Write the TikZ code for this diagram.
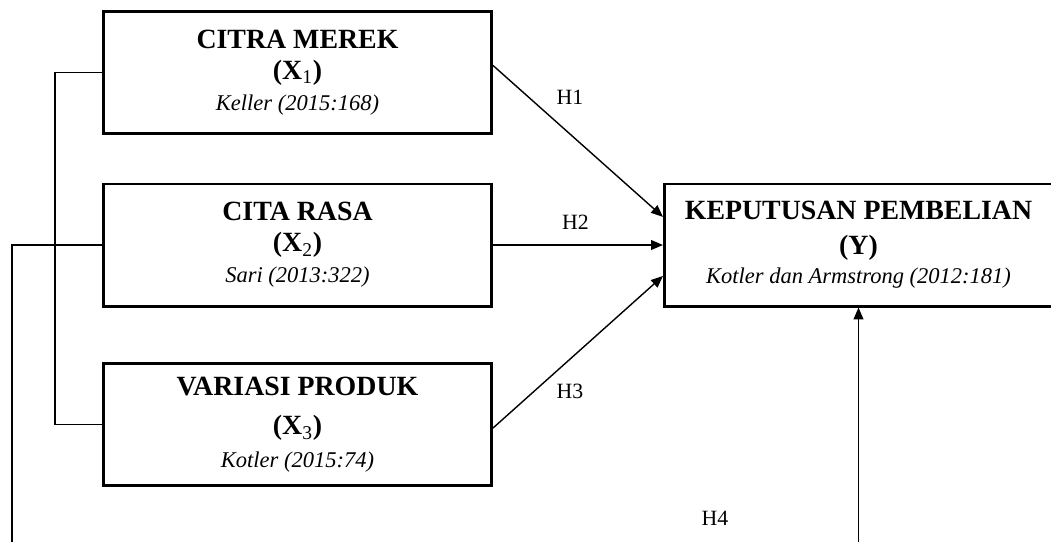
\documentclass[tikz,border=0pt]{standalone}
\usepackage{fontspec}
\setmainfont{Liberation Serif}
\usetikzlibrary{arrows.meta, positioning, calc}
\newcommand{\srcref}[1]{{\fontsize{16}{22}\selectfont\mdseries\itshape #1}}

\begin{document}
\begin{tikzpicture}[
    x=0.025cm, y=-0.025cm,
    varbox/.style={draw, line width=2.1pt,
                   minimum width=9.7cm, minimum height=3.05cm,
                   align=center, inner sep=0pt,
                   font=\fontsize{19.8}{22}\selectfont\bfseries},
    link/.style={line width=1pt},
    arr/.style={link, -{Triangle[length=8.5pt, width=7pt]}},
    hyp/.style={font=\fontsize{15.5}{18}\selectfont}
  ]
  \useasboundingbox (0,0) rectangle (1051,541);

  % variables
  \node[varbox] (x1) at (297.5,72.5)
    {CITRA MEREK\\(X\textsubscript{\mdseries 1})\\\srcref{Keller (2015:168)}};
  \node[varbox] (x2) at (297.5,245)
    {CITA RASA\\(X\textsubscript{\mdseries 2})\\\srcref{Sari (2013:322)}};
  \node[varbox] (x3) at (297.5,424.5)
    {VARIASI PRODUK\\[6pt](X\textsubscript{\mdseries 3})\\[1pt]\srcref{Kotler (2015:74)}};
  \node[varbox] (y) at (858.5,245)
    {KEPUTUSAN PEMBELIAN\\[3pt](Y)\\[-1.5pt]\srcref{Kotler dan Armstrong (2012:181)}};

  % joint lines on the left
  \coordinate (lbend) at (55,0);
  \coordinate (x2foot) at (12,545);
  \coordinate (yfoot) at (858.5,545);
  \draw[link] (x1.west) -- (x1.west -| lbend) |- (x3.west);
  \draw[link] (x2.west) -| (x2foot);

  % hypotheses
  \draw[arr] ([yshift=5pt]x1.east) -- ([yshift=20pt]y.west);
  \draw[arr] (x2.east) -- (y.west);
  \draw[arr] ([yshift=-2.5pt]x3.east) -- ([yshift=-22pt]y.west);
  \draw[arr] (yfoot) -- (y.south);

  \node[hyp] (h1) at (570,97) {H1};
  \node[hyp] (h2) at (575.5,222.5) {H2};
  \node[hyp] (h3) at (570,391) {H3};
  \node[hyp] (h4) at (715,518) {H4};
\end{tikzpicture}
\end{document}
